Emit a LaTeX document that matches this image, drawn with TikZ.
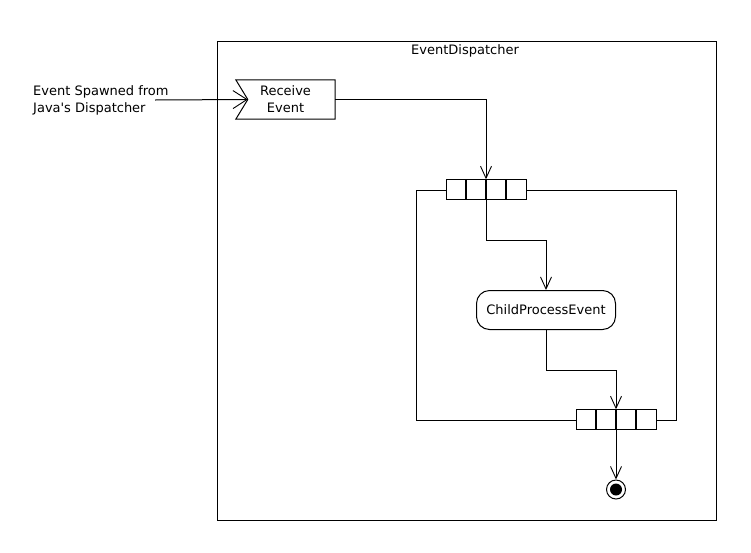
\documentclass[tikz,border=0pt]{standalone}
\usepackage{fontspec}
\setmainfont{DejaVu Sans}
\usetikzlibrary{arrows.meta,calc}
\begin{document}
\begin{tikzpicture}[x=1pt,y=-1pt,
  every node/.style={font=\fontsize{13}{17}\selectfont, inner sep=0pt},
  line/.style={draw, line width=1pt},
  flow/.style={line, -{Straight Barb[length=12pt,width=11pt,line width=0.9pt]}},
  bigflow/.style={line, -{Straight Barb[length=14pt,width=18pt,line width=0.9pt]}},
  pinbar/.style={draw, line width=1pt, minimum width=80pt, minimum height=19.5pt, fill=white},
  action/.style={draw, line width=1pt, rounded corners=13pt, minimum width=139pt, minimum height=39pt},
]
\useasboundingbox (0,0) rectangle (751,552);
% outer frame
\node[line, minimum width=499pt, minimum height=479pt, anchor=north west] (frame) at (216.5,40.5) {};
\node (title) at (465,51) {EventDispatcher};

% external label
\node[align=left, anchor=west] (ext) at (33,100) {Event Spawned from\\Java\textquotesingle s Dispatcher};
\coordinate (extend) at (155,100);

% receive signal
\node[minimum width=99pt, minimum height=39pt, align=center] (recv) at (285.5,99.5) {Receive\\Event};
\coordinate (notch) at ($(recv.west)+(12,0)$);
\draw[line] (recv.north west) -- (recv.north east) -- (recv.south east) -- (recv.south west) -- (notch) -- cycle;
\draw[bigflow] (extend) -- (notch);

% loop region
\coordinate (lnw) at (416.5,190.5);
\coordinate (lse) at (676.5,420);
\draw[line] (lnw) rectangle (lse);

% pin bars
\node[pinbar] (fork) at (486,189.5) {};
\foreach \dx in {-20,0,20} \draw[line width=1.3pt] ($(fork.north)+(\dx,0)$) -- ($(fork.south)+(\dx,0)$);
\node[pinbar] (join) at (616,419.5) {};
\foreach \dx in {-20,0,20} \draw[line width=1.3pt] ($(join.north)+(\dx,0)$) -- ($(join.south)+(\dx,0)$);

% action
\node[action] (cpe) at (546,310) {ChildProcessEvent};

% final node
\node[draw, circle, line width=1pt, minimum size=19pt] (final) at (616,489.5) {};
\fill (final.center) circle (6pt);

% connectors
\draw[flow] (recv.east) -| (fork.north);
\draw[flow] (fork.south) |- (546,240) -- (cpe.north);
\draw[flow] (cpe.south) |- (616,370) -- (join.north);
\draw[flow] (join.south) -- (final.north);
\end{tikzpicture}
\end{document}
